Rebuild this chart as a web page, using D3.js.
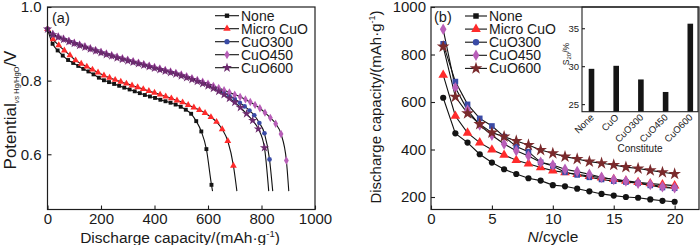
<!DOCTYPE html>
<html><head><meta charset="utf-8">
<script src="https://cdn.jsdelivr.net/npm/d3@7"></script>
<style>
body{margin:0;background:#fff}
svg{display:block}
text{font-family:"Liberation Sans",Arial,sans-serif;fill:#1a1a1a}
</style>
</head><body>
<svg id="c" width="700" height="245"></svg>
<script>
// ---------- DATA ----------
const seriesNames = ["None","Micro CuO","CuO300","CuO450","CuO600"];

// Panel (a): [discharge capacity (mAh/g), potential (V vs Hg/HgO)] at markers
const potNone = [[0,0.940],[19,0.900],[38,0.882],[57,0.868],[77,0.856],[96,0.848],[115,0.840],[134,0.832],[153,0.825],[172,0.817],[192,0.808],[211,0.801],[230,0.796],[249,0.791],[268,0.786],[287,0.781],[307,0.776],[326,0.771],[345,0.766],[364,0.761],[383,0.757],[402,0.753],[422,0.748],[441,0.744],[460,0.740],[479,0.735],[498,0.729],[517,0.721],[537,0.710],[556,0.690],[575,0.662],[594,0.614],[613,0.517]];
const potMicro = [[0,0.940],[21,0.912],[42,0.896],[63,0.882],[84,0.869],[105,0.855],[126,0.846],[147,0.838],[168,0.830],[189,0.822],[211,0.814],[232,0.808],[253,0.802],[274,0.797],[295,0.792],[316,0.787],[337,0.782],[358,0.777],[379,0.772],[400,0.767],[421,0.762],[442,0.757],[463,0.752],[484,0.746],[505,0.741],[526,0.734],[547,0.727],[568,0.720],[589,0.712],[611,0.701],[632,0.688],[653,0.668],[674,0.636],[695,0.569]];
const potCuO300 = [[0,0.940],[20,0.926],[40,0.919],[60,0.913],[80,0.907],[100,0.902],[120,0.897],[140,0.892],[160,0.887],[180,0.882],[200,0.877],[220,0.872],[240,0.868],[260,0.863],[280,0.859],[300,0.855],[320,0.851],[340,0.847],[360,0.843],[380,0.839],[400,0.835],[420,0.831],[440,0.827],[460,0.823],[480,0.819],[500,0.815],[520,0.810],[540,0.805],[560,0.800],[580,0.795],[600,0.789],[620,0.782],[640,0.775],[660,0.767],[680,0.759],[700,0.750],[719,0.740],[737,0.730],[755,0.719],[773,0.706],[792,0.685],[811,0.657],[830,0.586]];
const potCuO450 = [[0,0.940],[20,0.927],[40,0.920],[60,0.914],[80,0.908],[100,0.903],[120,0.898],[140,0.893],[160,0.888],[180,0.883],[200,0.878],[220,0.874],[240,0.869],[260,0.865],[280,0.861],[300,0.857],[320,0.853],[340,0.849],[360,0.845],[380,0.841],[400,0.837],[420,0.833],[440,0.829],[460,0.825],[480,0.821],[500,0.817],[520,0.812],[540,0.807],[560,0.802],[580,0.797],[600,0.792],[620,0.786],[640,0.780],[660,0.774],[680,0.768],[700,0.762],[720,0.756],[740,0.749],[758,0.742],[776,0.734],[794,0.725],[813,0.713],[833,0.699],[853,0.683],[873,0.655],[893,0.583]];
const potCuO600 = [[0,0.940],[20,0.925],[40,0.918],[60,0.912],[80,0.906],[100,0.901],[120,0.896],[140,0.891],[160,0.886],[180,0.881],[200,0.876],[220,0.871],[240,0.867],[260,0.862],[280,0.858],[300,0.854],[320,0.850],[340,0.846],[360,0.842],[380,0.838],[400,0.834],[420,0.830],[440,0.826],[460,0.822],[480,0.818],[500,0.813],[520,0.808],[540,0.803],[560,0.798],[580,0.792],[600,0.786],[620,0.779],[640,0.771],[660,0.762],[680,0.752],[700,0.741],[721,0.727],[744,0.710],[767,0.692],[788,0.669],[811,0.618]];
// where each discharge curve line ends (below last marker)
const curveEnds = [[617,0.50],[708,0.50],[842,0.50],[902,0.50],[827,0.50]];
const xTicksA = [0,200,400,600,800,1000];
const yTicksA = [0.6,0.8,1.0];

// Panel (b): discharge capacity vs cycle number
const cycles = [1,2,3,4,5,6,7,8,9,10,11,12,13,14,15,16,17,18,19,20];
const cycNone   = [618,468,429,380,345,317,297,279,269,250,245,235,224,213,206,200,197,190,184,180];
const cycMicro  = [714,541,470,429,399,377,355,340,324,311,303,296,288,281,275,268,262,257,252,248];
const cycCuO300 = [845,686,590,531,499,454,413,391,346,331,304,293,283,274,267,263,258,249,240,237];
const cycCuO450 = [906,660,566,503,460,423,395,373,346,335,317,307,296,283,274,267,258,253,243,239];
const cycCuO600 = [833,622,552,507,471,454,436,419,398,384,370,360,349,342,335,326,320,312,304,297];
const xTicksB = [0,5,10,15,20];
const yTicksB = [200,400,600,800,1000];

// Inset: S20 by constitute
const insetCats = ["None","CuO","CuO300","CuO450","CuO600"];
const insetVals = [29.65,30.05,28.25,26.6,35.6];
const insetTicks = [25,30,35];

// ---------- STYLE ----------
const ink = "#1e1e1e";
const colA = ["#141414","#ff2b2b","#3a4ba6","#b85eb8","#6c2a6e"];
const colB = ["#141414","#ff2b2b","#3a4ba6","#b85eb8","#7a2a2c"];
const symA = [d3.symbolSquare,d3.symbolTriangle,d3.symbolCircle,d3.symbolDiamond,d3.symbolStar];
const sizeA = [15,20,17,20,26];
const symBplot = [d3.symbolCircle,d3.symbolTriangle,d3.symbolSquare,d3.symbolDiamond,d3.symbolStar];
const symBleg  = [d3.symbolSquare,d3.symbolTriangle,d3.symbolCircle,d3.symbolDiamond,d3.symbolStar];
const sizeB = [30,40,32,38,50];
const TOP = 7, BOT = 209.5;

const svg = d3.select("#c");

function styleAxis(g, fs){
  g.select(".domain").remove();
  g.selectAll(".tick line").attr("stroke",ink).attr("stroke-width",1.1);
  g.selectAll(".tick text").style("font-size",fs+"px").attr("fill","#1a1a1a");
}

// ---------- PANEL A ----------
const xa = d3.scaleLinear().domain([0,1000]).range([47.5,315]);
const ya = d3.scaleLinear().domain([0.45,1.0]).range([BOT,TOP]);
const pa = svg.append("g");

pa.append("g").attr("transform",`translate(0,${BOT})`)
  .call(d3.axisBottom(xa).tickValues(xTicksA).tickSize(-4).tickPadding(3.5).tickFormat(d3.format("d")))
  .call(g=>styleAxis(g,15));
pa.append("g").attr("transform","translate(47.5,0)")
  .call(d3.axisLeft(ya).tickValues(yTicksA).tickSize(-4).tickPadding(6).tickFormat(d3.format(".1f")))
  .call(g=>styleAxis(g,15));

const seriesA = [potNone,potMicro,potCuO300,potCuO450,potCuO600];
const lineA = d3.line().x(d=>xa(d[0])).y(d=>ya(d[1])).curve(d3.curveMonotoneX);
seriesA.forEach((s,i)=>{
  pa.append("path").datum(s.concat([curveEnds[i]])).attr("d",lineA)
    .attr("fill","none").attr("stroke","#111").attr("stroke-width",1.1);
});
seriesA.forEach((s,i)=>{
  pa.append("g").selectAll("path").data(s).join("path")
    .attr("transform",d=>`translate(${xa(d[0])},${ya(d[1])})`)
    .attr("d",d3.symbol().type(symA[i]).size(sizeA[i]))
    .attr("fill",colA[i]);
});
pa.append("rect").attr("x",47.5).attr("y",TOP).attr("width",267.5).attr("height",BOT-TOP)
  .attr("fill","none").attr("stroke",ink).attr("stroke-width",1.2);

// legend a
seriesNames.forEach((n,i)=>{
  const y = 15.7 + 13*i;
  pa.append("line").attr("x1",215).attr("x2",239).attr("y1",y).attr("y2",y).attr("stroke","#111").attr("stroke-width",1.1);
  pa.append("path").attr("transform",`translate(227,${y})`).attr("d",d3.symbol().type(symA[i]).size(sizeA[i]+4)).attr("fill",colA[i]);
  pa.append("text").attr("x",241).attr("y",y+5).style("font-size","14px").text(n);
});
pa.append("text").attr("x",52).attr("y",23).style("font-size","14.5px").text("(a)");

// titles a
const xtA = pa.append("text").attr("x",180).attr("y",242.5).attr("text-anchor","middle").style("font-size","15.5px");
xtA.append("tspan").text("Discharge capacity/(mAh·g");
xtA.append("tspan").attr("dy",-6).style("font-size","9.5px").text("-1");
xtA.append("tspan").attr("dy",6).text(")");
const ytA = pa.append("text").attr("transform","translate(16,110) rotate(-90)").attr("text-anchor","middle").style("font-size","17px");
ytA.append("tspan").text("Potential");
ytA.append("tspan").attr("dy",3).style("font-size","7.5px").style("font-style","italic").text("vs ");
ytA.append("tspan").style("font-size","7.5px").text("Hg/HgO");
ytA.append("tspan").attr("dy",-3).text("/V");

// ---------- PANEL B ----------
const xb = d3.scaleLinear().domain([0,22]).range([431,699]);
const yb = d3.scaleLinear().domain([147.4,1000]).range([BOT,TOP]);
const pb = svg.append("g");

pb.append("g").attr("transform",`translate(0,${BOT})`)
  .call(d3.axisBottom(xb).tickValues(xTicksB).tickSize(-4).tickPadding(3.5))
  .call(g=>styleAxis(g,15));
pb.append("g").attr("transform","translate(431,0)")
  .call(d3.axisLeft(yb).tickValues(yTicksB).tickSize(-4).tickPadding(5).tickFormat(d3.format("d")))
  .call(g=>styleAxis(g,15));

const seriesB = [cycNone,cycMicro,cycCuO300,cycCuO450,cycCuO600];
const lineB = d3.line().x((d,j)=>xb(cycles[j])).y(d=>yb(d));
seriesB.forEach((s,i)=>{
  pb.append("path").datum(s).attr("d",lineB).attr("fill","none").attr("stroke","#111").attr("stroke-width",1.1);
});
seriesB.forEach((s,i)=>{
  pb.append("g").selectAll("path").data(s).join("path")
    .attr("transform",(d,j)=>`translate(${xb(cycles[j])},${yb(d)})`)
    .attr("d",d3.symbol().type(symBplot[i]).size(sizeB[i]))
    .attr("fill",colB[i]);
});

// inset
const xi = d3.scalePoint().domain(insetCats).range([591.5,690.3]);
const yi = d3.scaleLinear().domain([24,37.8]).range([111.7,TOP]);
pb.append("rect").attr("x",582).attr("y",TOP).attr("width",116).attr("height",111.7-TOP).attr("fill","#fff");
pb.selectAll(".bar").data(insetVals).join("rect").attr("class","bar")
  .attr("x",(d,j)=>xi(insetCats[j])-2.8).attr("width",5.6)
  .attr("y",d=>yi(d)).attr("height",d=>111.7-yi(d)).attr("fill","#151515");
pb.append("g").attr("transform","translate(582,0)")
  .call(d3.axisLeft(yi).tickValues(insetTicks).tickSize(-3).tickPadding(3))
  .call(g=>styleAxis(g,9.5));
pb.append("rect").attr("x",582).attr("y",TOP).attr("width",116).attr("height",111.7-TOP)
  .attr("fill","none").attr("stroke",ink).attr("stroke-width",1.1);
insetCats.forEach((c,j)=>{
  pb.append("text").attr("transform",`translate(${xi(c)+3},${118}) rotate(-45)`)
    .attr("text-anchor","end").style("font-size","9.5px").text(c);
});
pb.append("text").attr("x",640).attr("y",152).attr("text-anchor","middle").style("font-size","10px").text("Constitute");
const yti = pb.append("text").attr("transform","translate(569,54) rotate(-90)").attr("text-anchor","middle").style("font-size","8.5px").attr("fill","#555");
yti.append("tspan").text("S");
yti.append("tspan").attr("dy",2).style("font-size","6px").text("20");
yti.append("tspan").attr("dy",-2).text("/%");

pb.append("rect").attr("x",431).attr("y",TOP).attr("width",268).attr("height",BOT-TOP)
  .attr("fill","none").attr("stroke",ink).attr("stroke-width",1.2);

// legend b
seriesNames.forEach((n,i)=>{
  const y = 16 + 13.1*i;
  pb.append("line").attr("x1",465).attr("x2",487).attr("y1",y).attr("y2",y).attr("stroke","#111").attr("stroke-width",1.1);
  pb.append("path").attr("transform",`translate(476,${y})`).attr("d",d3.symbol().type(symBleg[i]).size(sizeB[i])).attr("fill",colB[i]);
  pb.append("text").attr("x",489).attr("y",y+5).style("font-size","14px").text(n);
});
pb.append("text").attr("x",434).attr("y",22).style("font-size","14.5px").text("(b)");

const xtB = pb.append("text").attr("x",553).attr("y",242).attr("text-anchor","middle").style("font-size","15.5px");
xtB.append("tspan").style("font-style","italic").text("N");
xtB.append("tspan").text("/cycle");
const ytB = pb.append("text").attr("transform","translate(381,107) rotate(-90)").attr("text-anchor","middle").style("font-size","15px");
ytB.append("tspan").text("Discharge capacity/(mAh·g");
ytB.append("tspan").attr("dy",-6).style("font-size","9px").text("-1");
ytB.append("tspan").attr("dy",6).text(")");
</script>
</body></html>
